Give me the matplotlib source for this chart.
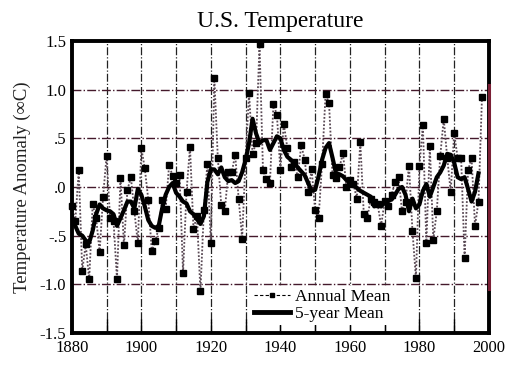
import matplotlib
matplotlib.use("Agg")
import matplotlib.pyplot as plt
from matplotlib.lines import Line2D

plt.rcParams["font.family"] = ["Liberation Serif", "DejaVu Serif"]

# Annual mean anomaly (deg C)
annual_years = list(range(1880, 1999))
annual_mean = [
    -0.20, -0.35, 0.17, -0.86, -0.59, -0.95, -0.18, -0.32, -0.67, -0.10,   # 1880s
    0.32, -0.32, -0.35, -0.95, 0.09, -0.60, -0.03, 0.10, -0.25, -0.58,     # 1890s
    0.40, 0.19, -0.13, -0.66, -0.56, -0.42, -0.13, -0.23, 0.23, 0.11,      # 1900s
    0.04, 0.12, -0.88, -0.05, 0.41, -0.43, -0.30, -1.07, -0.24, 0.24,      # 1910s
    -0.58, 1.12, 0.30, -0.19, -0.25, 0.15, 0.15, 0.33, -0.12, -0.53,       # 1920s
    0.30, 0.96, 0.34, 0.45, 1.47, 0.17, 0.08, 0.04, 0.85, 0.74,           # 1930s
    0.17, 0.65, 0.40, 0.20, 0.26, 0.10, 0.43, 0.28, -0.05, 0.18,          # 1940s
    -0.24, -0.32, 0.24, 0.95, 0.86, 0.12, 0.09, 0.20, 0.35, 0.00,         # 1950s
    0.07, 0.03, -0.12, 0.46, -0.28, -0.32, -0.12, -0.15, -0.18, -0.40,    # 1960s
    -0.14, -0.20, -0.08, 0.05, 0.10, -0.25, -0.15, 0.22, -0.45, -0.94,    # 1970s
    0.21, 0.64, -0.58, 0.42, -0.54, -0.25, 0.32, 0.70, 0.30, -0.05,       # 1980s
    0.55, 0.30, 0.30, -0.73, 0.17, 0.30, -0.40, -0.15, 0.92,              # 1990s
]

# 5-year mean
smooth_years = list(range(1880, 1998))
five_year_mean = [
    -0.30, -0.40, -0.48, -0.50, -0.55, -0.57, -0.45, -0.28, -0.18, -0.22,
    -0.24, -0.25, -0.28, -0.40, -0.32, -0.24, -0.15, -0.15, -0.22, -0.02,
    -0.08, -0.20, -0.34, -0.40, -0.42, -0.40, -0.22, -0.08, 0.00, 0.04,
    -0.06, -0.10, -0.15, -0.17, -0.25, -0.28, -0.33, -0.38, -0.30, 0.05,
    0.18, 0.18, 0.13, 0.20, 0.10, 0.06, 0.07, 0.04, 0.06, 0.15,
    0.28, 0.45, 0.70, 0.55, 0.45, 0.48, 0.48, 0.38, 0.45, 0.52,
    0.50, 0.38, 0.31, 0.28, 0.24, 0.20, 0.16, 0.12, 0.04, -0.04,
    -0.03, 0.11, 0.28, 0.40, 0.45, 0.30, 0.14, 0.13, 0.11, 0.07,
    0.05, 0.02, -0.01, -0.04, -0.06, -0.08, -0.10, -0.20, -0.18, -0.20,
    -0.16, -0.14, -0.13, -0.08, -0.02, 0.00, -0.08, -0.25, -0.12, -0.22,
    -0.18, -0.04, 0.03, -0.10, 0.00, 0.10, 0.15, 0.22, 0.34, 0.33,
    0.25, 0.10, 0.08, 0.10, -0.02, -0.15, -0.05, 0.14,
]

y_ticks = [-1.5, -1.0, -0.5, 0.0, 0.5, 1.0, 1.5]
y_tick_labels = ["-1.5", "-1.0", "-.5", ".0", ".5", "1.0", "1.5"]
x_ticks = [1880, 1900, 1920, 1940, 1960, 1980, 2000]

fig = plt.figure(figsize=(5.28, 3.68), dpi=100)
ax = fig.add_axes([0.136, 0.095, 0.790, 0.794])

# grid: black dash-dot verticals every 10 years, dark maroon dash-dot horizontals
for yr in range(1890, 2000, 10):
    ax.axvline(yr, color="#222222", linestyle="-.", linewidth=0.9, zorder=1)
for v in [-1.0, -0.5, 0.0, 0.5, 1.0]:
    ax.axhline(v, color="#44192b", linestyle="-.", linewidth=1.0, zorder=1)

ax.plot(annual_years, annual_mean, color="#5a4a55", linestyle=(0, (1, 1)),
        linewidth=1.3, marker="s", markersize=4.2, markerfacecolor="black",
        markeredgecolor="black", zorder=3, clip_on=False)
ax.plot(smooth_years, five_year_mean, color="black", linewidth=3,
        solid_joinstyle="round", zorder=4)

ax.set_xlim(1880, 2000)
ax.set_ylim(-1.5, 1.5)
ax.set_xticks(x_ticks)
ax.set_xticks(range(1890, 2000, 20), minor=True)
ax.set_yticks(y_ticks)
ax.set_yticklabels(y_tick_labels)
ax.tick_params(axis="x", which="both", direction="in", length=10, width=1,
               labelsize=12, pad=5)
ax.tick_params(axis="y", length=0, labelsize=12, pad=4)

for side in ["left", "right", "top", "bottom"]:
    ax.spines[side].set_linewidth(2.8)
    ax.spines[side].set_zorder(6)
ax.axvline(2000, ymin=0.15, ymax=0.85, color="#7a1f35", linewidth=2.2,
           zorder=7, clip_on=False)

ax.set_title("U.S. Temperature", fontsize=17, pad=10)
ax.set_ylabel("Temperature Anomaly (\u221eC)", fontsize=13.5, color="#222222",
              labelpad=6)

handles = [
    Line2D([], [], color="black", linestyle=(0, (3, 2)), linewidth=0.8,
           marker="s", markersize=3.5),
    Line2D([], [], color="black", linewidth=3.5),
]
leg = ax.legend(handles, ["Annual Mean", "5-year Mean"], loc="upper left",
                bbox_to_anchor=(0.43, 0.16), borderaxespad=0, fontsize=12.5,
                frameon=True, fancybox=False, edgecolor="none",
                facecolor="white", framealpha=1, borderpad=0.15,
                labelspacing=0.05, handlelength=2.1, handletextpad=0.3,
                markerscale=1)
leg.set_zorder(5)

fig.savefig("out.png", dpi=100)
